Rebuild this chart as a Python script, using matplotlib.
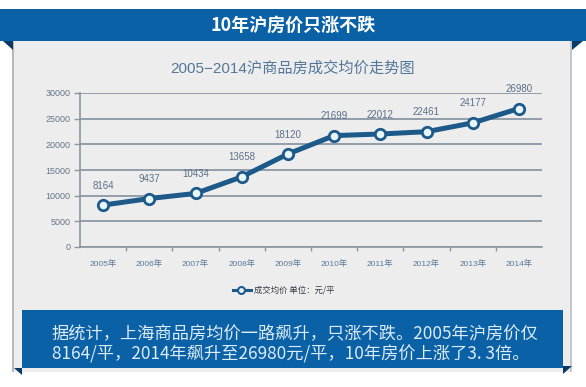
import matplotlib
matplotlib.use("Agg")
import matplotlib.pyplot as plt
from matplotlib.patches import Rectangle, Polygon
from matplotlib.lines import Line2D

plt.rcParams['font.family'] = ['Liberation Sans', 'Noto Sans CJK SC', 'DejaVu Sans']

# data
years = ["2005年", "2006年", "2007年", "2008年", "2009年",
         "2010年", "2011年", "2012年", "2013年", "2014年"]
prices = [8164, 9437, 10434, 13658, 18120, 21699, 22012, 22461, 24177, 26980]
y_ticks = [0, 5000, 10000, 15000, 20000, 25000, 30000]

header = "10年沪房价只涨不跌"
chart_title = "2005−2014沪商品房成交均价走势图"
legend_label = "成交均价 单位：元/平"
note_lines = ["据统计，上海商品房均价一路飙升，只涨不跌。2005年沪房价仅",
              "8164/平，2014年飙升至26980元/平，10年房价上涨了3. 3倍。"]

W, H = 586, 387
blue = "#0b61a6"
navy = "#0a3a66"
line_blue = "#1d5a8a"
panel = "#ededed"
cjk = ["Noto Sans CJK SC", "DejaVu Sans"]

fig = plt.figure(figsize=(W / 100, H / 100), dpi=100)

# background layer in pixel coords (y down)
bg = fig.add_axes([0, 0, 1, 1], zorder=0)
bg.set_xlim(0, W)
bg.set_ylim(H, 0)
bg.axis("off")

bg.add_patch(Rectangle((13, 41), 559, 331, facecolor=panel, edgecolor="none"))
bg.add_patch(Rectangle((12, 41), 2, 331, facecolor="#b5b9bd", edgecolor="none"))
bg.add_patch(Rectangle((570, 41), 2, 331, facecolor="#c4c8cc", edgecolor="none"))
bg.add_patch(Rectangle((0, 9), W, 32, facecolor=blue, edgecolor="none"))
bg.add_patch(Polygon([(3, 41), (13, 41), (13, 50)], facecolor=navy, edgecolor="none"))
bg.add_patch(Polygon([(572, 41), (583, 41), (572, 50)], facecolor=navy, edgecolor="none"))
bg.text(W / 2, 25, header, color="white", fontsize=13, fontweight="bold",
        ha="center", va="center", family=cjk)

bg.add_patch(Rectangle((22, 310), 541, 58, facecolor=blue, edgecolor="none"))
bg.add_patch(Polygon([(14, 368), (22, 368), (22, 375)], facecolor=navy, edgecolor="none"))
bg.add_patch(Polygon([(563, 366), (572, 366), (563, 374)], facecolor=navy, edgecolor="none"))
for i, s in enumerate(note_lines):
    bg.text(52, 334 + i * 20, s, color="#dcecf8", fontsize=12.4,
            ha="left", va="center", family=cjk)

bg.text(W / 2, 68, chart_title, color="#53779a", fontsize=11,
        ha="center", va="center", family=["Liberation Sans", "Noto Sans CJK SC"])

# chart
x0, x1, y0, y1 = 80, 542, 247, 93
ax = fig.add_axes([x0 / W, 1 - y0 / H, (x1 - x0) / W, (y0 - y1) / H], zorder=1)
ax.set_facecolor("none")
xs = list(range(len(years)))
ax.set_xlim(-0.5, len(years) - 0.5)
ax.set_ylim(0, 30000)
ax.set_yticks(y_ticks)
ax.set_yticklabels([str(v) for v in y_ticks], color="#66768a", fontsize=6.5)
ax.set_xticks(xs)
ax.set_xticklabels(years, color="#5a7a9a", fontsize=6)
ax.set_xticks([i + 0.5 for i in xs[:-1]], minor=True)
ax.tick_params(axis="x", which="major", length=0, pad=9)
ax.tick_params(axis="x", which="minor", length=3, color="#8a96a0", width=1)
ax.tick_params(axis="y", length=4, color="#8a96a0", width=1, pad=3)
ax.grid(axis="y", color="#8a97a3", linewidth=1.3)
ax.set_axisbelow(True)
for s in ["top", "right"]:
    ax.spines[s].set_visible(False)
ax.spines["left"].set_color("#8a96a0")
ax.spines["bottom"].set_color("#8a96a0")
ax.spines["left"].set_linewidth(1.2)
ax.spines["bottom"].set_linewidth(1.2)

ax.plot(xs, prices, color=line_blue, linewidth=3.6, marker="o", markersize=7.5,
        markerfacecolor="#e6f6fb", markeredgecolor=line_blue, markeredgewidth=2,
        solid_capstyle="round", clip_on=False)
for x, v in zip(xs, prices):
    ax.annotate(str(v), (x, v), xytext=(0, 14), textcoords="offset points",
                ha="center", va="center", fontsize=7, color="#5c7088")

# legend
bg.add_line(Line2D([233, 251], [290, 290], color=line_blue, linewidth=2.2))
bg.plot([241], [290], marker="o", markersize=5, markerfacecolor="#e6f6fb",
        markeredgecolor=line_blue, markeredgewidth=1.5)
bg.text(254, 290, legend_label, fontsize=6, color="#333a44", ha="left", va="center",
        family=cjk)

fig.savefig("out.png", dpi=100, facecolor="white")
